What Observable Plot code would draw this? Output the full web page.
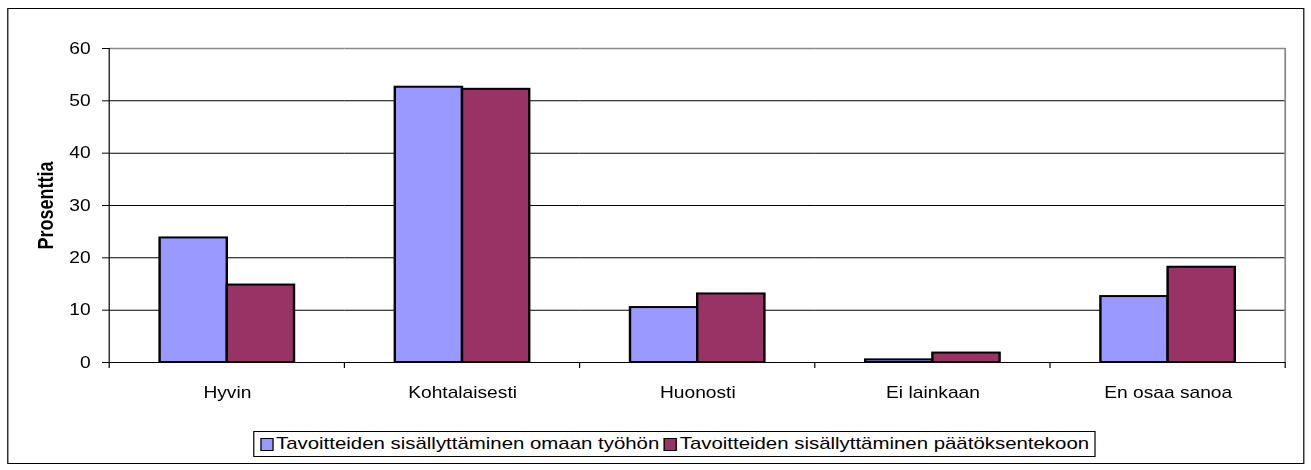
<!DOCTYPE html>
<html>
<head>
<meta charset="utf-8">
<script src="https://cdn.jsdelivr.net/npm/d3@7"></script>
<script src="https://cdn.jsdelivr.net/npm/@observablehq/plot@0.6"></script>
<style>
  html, body { margin: 0; padding: 0; background: #fff; overflow: hidden; }
  #stage { position: relative; width: 1092.5px; height: 470px; transform: scaleX(1.2); transform-origin: 0 0; font-family: "Liberation Sans", Arial, sans-serif; }
  #border { position: absolute; left: 5.8px; top: 8px; width: 1081px; height: 456px; border: 1.5px solid #000; box-sizing: border-box; }
  #chart { position: absolute; left: 0; top: 0; }
  #legend { position: absolute; left: 211px; top: 431px; height: 26px; border: 1px solid #000; box-sizing: border-box; display: flex; align-items: center; padding: 0 4px 0 5px; font-size: 17px; color: #000; white-space: nowrap; background: #fff; }
  .item { display: flex; align-items: center; margin-right: 4px; }
  .item:last-child { margin-right: 0; }
  .sw { width: 9px; height: 11px; border: 1.5px solid #000; margin-right: 2px; }
</style>
</head>
<body>
<div id="stage">
  <div id="border"></div>
  <div id="chart"></div>
  <div id="legend"></div>
</div>
<script>
const categories = ["Hyvin", "Kohtalaisesti", "Huonosti", "Ei lainkaan", "En osaa sanoa"];
const series = ["Tavoitteiden sisällyttäminen omaan työhön", "Tavoitteiden sisällyttäminen päätöksentekoon"];
const omaanTyohon = [23.8, 52.6, 10.5, 0.5, 12.6];
const paatoksentekoon = [14.8, 52.2, 13.1, 1.8, 18.2];
const seriesColors = ["#9999FF", "#993366"];
const yTicks = [0, 10, 20, 30, 40, 50, 60];
const yLabel = "Prosenttia";

const values = [omaanTyohon, paatoksentekoon];
const data = categories.flatMap((c, i) => series.map((s, j) => ({category: c, series: s, value: values[j][i]})));

const W = 1092.5;
const plot = Plot.plot({
  width: W,
  height: 420,
  marginLeft: 89,
  marginRight: 20,
  marginTop: 48,
  marginBottom: 58,
  style: {fontFamily: '"Liberation Sans", Arial, sans-serif', fontSize: "16px", color: "#000", background: "transparent", overflow: "visible"},
  fx: {domain: categories, paddingInner: 0, paddingOuter: 0, label: null},
  x: {domain: series, paddingInner: 0, paddingOuter: 0.75, axis: null},
  y: {domain: [yTicks[0], yTicks[yTicks.length - 1]], axis: null},
  color: {domain: series, range: seriesColors},
  marks: [
    Plot.ruleY(yTicks.slice(1, -1), {stroke: "#000", strokeWidth: 1}),
    Plot.ruleY([yTicks[yTicks.length - 1]], {stroke: "#8a8a8a", strokeWidth: 1.5}),
    Plot.ruleY([yTicks[0]], {stroke: "#000", strokeWidth: 1}),
    Plot.barY(data, {fx: "category", x: "series", y: "value", fill: "series", stroke: "#000", strokeWidth: 2}),
    Plot.axisY({ticks: yTicks, tickSize: 6, tickPadding: 10, fontSize: 16, label: null, stroke: "#000", strokeOpacity: 1}),
    Plot.axisFx({anchor: "bottom", tickSize: 0, tickPadding: 24, label: null, fontSize: 16}),
    Plot.text([yLabel], {fx: [categories[0]], frameAnchor: "left", textAnchor: "middle", rotate: -90, dx: -53, fontWeight: "bold", fontSize: 18, fill: "#000"})
  ]
});
document.getElementById("chart").appendChild(plot);

// axis lines and category boundary ticks, derived from the plot's scales
const fx = plot.scale("fx");
const ys = plot.scale("y");
const bounds = categories.map(c => fx.apply(c));
bounds.push(fx.apply(categories[categories.length - 1]) + fx.bandwidth);
const y0 = ys.apply(yTicks[0]);
const y1 = ys.apply(yTicks[yTicks.length - 1]);
const g = d3.select(plot).append("g");
g.append("line").attr("x1", bounds[0]).attr("x2", bounds[0]).attr("y1", y1).attr("y2", y0).attr("stroke", "#000").attr("stroke-width", 1);
g.append("line").attr("x1", bounds[bounds.length - 1]).attr("x2", bounds[bounds.length - 1]).attr("y1", y1).attr("y2", y0).attr("stroke", "#8a8a8a").attr("stroke-width", 1.5);
g.selectAll("line.tick").data(bounds).join("line").attr("class", "tick")
  .attr("x1", d => d).attr("x2", d => d).attr("y1", y0).attr("y2", y0 + 6).attr("stroke", "#000").attr("stroke-width", 1);

// legend
const legend = d3.select("#legend");
series.forEach((s, i) => {
  const it = legend.append("div").attr("class", "item");
  it.append("div").attr("class", "sw").style("background", seriesColors[i]);
  it.append("span").text(s);
});
</script>
</body>
</html>
